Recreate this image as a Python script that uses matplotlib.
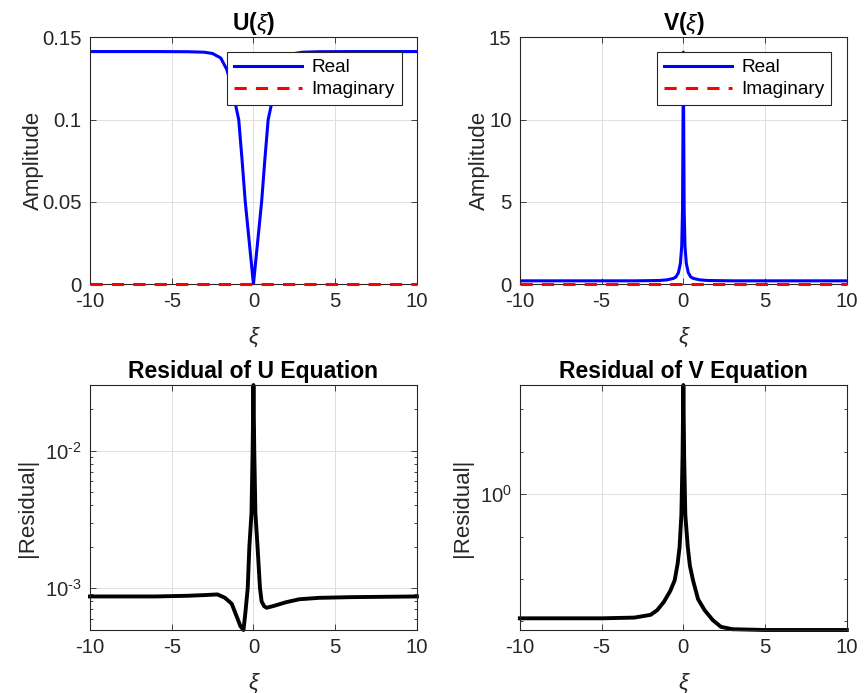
import matplotlib
matplotlib.use('Agg')
import matplotlib.pyplot as plt
from matplotlib.ticker import FormatStrFormatter, FixedLocator, FixedFormatter, NullFormatter

plt.rcParams['font.family'] = ['Liberation Sans', 'DejaVu Sans']
plt.rcParams['mathtext.fontset'] = 'custom'
plt.rcParams['mathtext.rm'] = 'Liberation Sans'
plt.rcParams['mathtext.it'] = 'Liberation Sans:italic'
plt.rcParams['mathtext.bf'] = 'Liberation Sans:bold'
plt.rcParams['axes.unicode_minus'] = False

# ---- data ----
xi_u = [-10, -6, -4, -3, -2.5, -2, -1.63, -1.3, -1.05, -0.9, -0.7, -0.5, -0.25, 0,
        0.25, 0.5, 0.7, 0.9, 1.05, 1.3, 1.63, 2, 2.5, 3, 4, 6, 10]
u_real = [0.1414, 0.1414, 0.1413, 0.1410, 0.1402, 0.1375, 0.1305, 0.1190, 0.1070, 0.1000,
          0.0760, 0.0500, 0.0250, 0.0,
          0.0250, 0.0500, 0.0760, 0.1000, 0.1070, 0.1190, 0.1305, 0.1375, 0.1402, 0.1410,
          0.1413, 0.1414, 0.1414]
xi_imag = [-10, 10]
u_imag = [0, 0]

xi_v = [-10, -3, -1.5, -1, -0.6, -0.45, -0.3, -0.18, -0.1, -0.05, -0.02, 0,
        0.02, 0.05, 0.1, 0.18, 0.3, 0.45, 0.6, 1, 1.5, 3, 10]
v_real = [0.2, 0.2, 0.22, 0.26, 0.35, 0.44, 0.7, 1.27, 2.3, 4.5, 10.0, 14.1,
          10.0, 4.5, 2.3, 1.27, 0.7, 0.44, 0.35, 0.26, 0.22, 0.2, 0.2]
v_imag = [0, 0]

xi_ru = [-10, -6, -4, -3, -2.2, -1.74, -1.33, -1.02, -0.8, -0.61, -0.5, -0.35, -0.25,
         -0.12, -0.05, 0, 0.05, 0.12, 0.25, 0.4, 0.5, 0.65, 0.8, 1.2, 2, 2.8, 4, 6, 10]
res_u = [0.00087, 0.00087, 0.00088, 0.00089, 0.00090, 0.00085, 0.00077, 0.00062, 0.00053,
         0.000496, 0.00065, 0.0010, 0.0020, 0.0035, 0.010, 0.030, 0.010, 0.0035, 0.0020,
         0.0010, 0.00080, 0.00074, 0.00072, 0.00074, 0.00079, 0.00083, 0.00085, 0.00086,
         0.00087]

xi_rv = [-10, -5, -3, -2, -1.6, -1.2, -0.8, -0.53, -0.35, -0.23, -0.12, -0.05, 0,
         0.05, 0.12, 0.27, 0.4, 0.59, 0.9, 1.3, 1.8, 2.3, 3, 5, 10]
res_v = [0.26, 0.26, 0.262, 0.27, 0.284, 0.31, 0.35, 0.393, 0.47, 0.564, 0.8, 1.5, 3.27,
         1.5, 0.8, 0.564, 0.46, 0.393, 0.32, 0.284, 0.255, 0.237, 0.231, 0.229, 0.229]

xticks = [-10, -5, 0, 5, 10]
ru_ticks = [1e-3, 1e-2]
ru_ticklabels = [r'$\mathdefault{10^{\text{-}3}}$', r'$\mathdefault{10^{\text{-}2}}$']
ru_minor = [5e-4, 6e-4, 7e-4, 8e-4, 9e-4, 2e-3, 3e-3, 4e-3, 5e-3, 6e-3, 7e-3, 8e-3,
            9e-3, 2e-2, 3e-2]
rv_ticks = [1.0]
rv_ticklabels = [r'$\mathdefault{10^{0}}$']
rv_minor = [10 ** -0.6, 10 ** -0.4, 10 ** -0.2, 10 ** 0.2, 10 ** 0.4]

AX_COLOR = '#262626'
TICK_FS = 14.6
LABEL_FS = 16
TITLE_FS = 16.5
LEG_FS = 13.7


def matlab_style(ax):
    for s in ax.spines.values():
        s.set_color(AX_COLOR)
        s.set_linewidth(0.8)
    ax.tick_params(which='both', direction='in', top=True, right=True,
                   colors=AX_COLOR, labelsize=TICK_FS, width=0.6, pad=6)
    ax.tick_params(which='major', length=4)
    ax.tick_params(which='minor', length=2)
    ax.grid(True, which='major', color='#dfdfdf', linewidth=0.7)
    ax.set_axisbelow(True)
    ax.set_xlim(-10, 10)
    ax.set_xticks(xticks)
    ax.set_xlabel('ξ', fontsize=LABEL_FS, style='italic', color=AX_COLOR, labelpad=11)


fig = plt.figure(figsize=(8.65, 6.93), dpi=100)
ax1 = fig.add_axes([0.104, 0.590, 0.378, 0.356])
ax2 = fig.add_axes([0.601, 0.590, 0.378, 0.356])
ax3 = fig.add_axes([0.104, 0.0909, 0.378, 0.3535])
ax4 = fig.add_axes([0.601, 0.0909, 0.378, 0.3535])

# U
ax1.plot(xi_u, u_real, color='#0000ff', lw=2.2, label='Real')
ax1.plot(xi_imag, u_imag, color='#ff0000', lw=2.2, ls=(0, (4, 3)), label='Imaginary',
         clip_on=False, zorder=3)
matlab_style(ax1)
ax1.set_ylim(0, 0.15)
ax1.set_yticks([0, 0.05, 0.1, 0.15])
ax1.yaxis.set_major_formatter(FormatStrFormatter('%g'))
ax1.set_ylabel('Amplitude', fontsize=LABEL_FS, color=AX_COLOR, labelpad=-1)
ax1.set_title(r'U($\xi$)', fontsize=TITLE_FS, fontweight='bold', pad=3)

# V
ax2.plot(xi_v, v_real, color='#0000ff', lw=2.2, label='Real')
ax2.plot(xi_imag, v_imag, color='#ff0000', lw=2.2, ls=(0, (4, 3)), label='Imaginary',
         clip_on=False, zorder=3)
matlab_style(ax2)
ax2.set_ylim(0, 15)
ax2.set_yticks([0, 5, 10, 15])
ax2.set_ylabel('Amplitude', fontsize=LABEL_FS, color=AX_COLOR, labelpad=-1)
ax2.set_title(r'V($\xi$)', fontsize=TITLE_FS, fontweight='bold', pad=3)

for ax in (ax1, ax2):
    leg = ax.legend(loc='upper right', bbox_to_anchor=(0.953, 0.94), fontsize=LEG_FS,
                    fancybox=False, framealpha=1, edgecolor=AX_COLOR, handlelength=3.6,
                    borderpad=0.35, labelspacing=0.25, handletextpad=0.5,
                    borderaxespad=0)
    leg.get_frame().set_linewidth(0.8)
    leg.set_zorder(5)

# Residual U
ax3.plot(xi_ru, res_u, color='black', lw=2.8, clip_on=False)
ax3.set_yscale('log')
matlab_style(ax3)
ax3.set_ylim(0.000496, 0.030)
ax3.yaxis.set_major_locator(FixedLocator(ru_ticks))
ax3.yaxis.set_major_formatter(FixedFormatter(ru_ticklabels))
ax3.yaxis.set_minor_locator(FixedLocator(ru_minor))
ax3.yaxis.set_minor_formatter(NullFormatter())
ax3.set_ylabel('|Residual|', fontsize=LABEL_FS, color=AX_COLOR, labelpad=5)
ax3.set_title('Residual of U Equation', fontsize=TITLE_FS, fontweight='bold', pad=5)

# Residual V
ax4.plot(xi_rv, res_v, color='black', lw=2.8, clip_on=False)
ax4.set_yscale('log')
matlab_style(ax4)
ax4.set_ylim(0.229, 3.27)
ax4.yaxis.set_major_locator(FixedLocator(rv_ticks))
ax4.yaxis.set_major_formatter(FixedFormatter(rv_ticklabels))
ax4.yaxis.set_minor_locator(FixedLocator(rv_minor))
ax4.yaxis.set_minor_formatter(NullFormatter())
ax4.set_ylabel('|Residual|', fontsize=LABEL_FS, color=AX_COLOR, labelpad=5)
ax4.set_title('Residual of V Equation', fontsize=TITLE_FS, fontweight='bold', pad=5)

fig.savefig('out.png', dpi=100)
